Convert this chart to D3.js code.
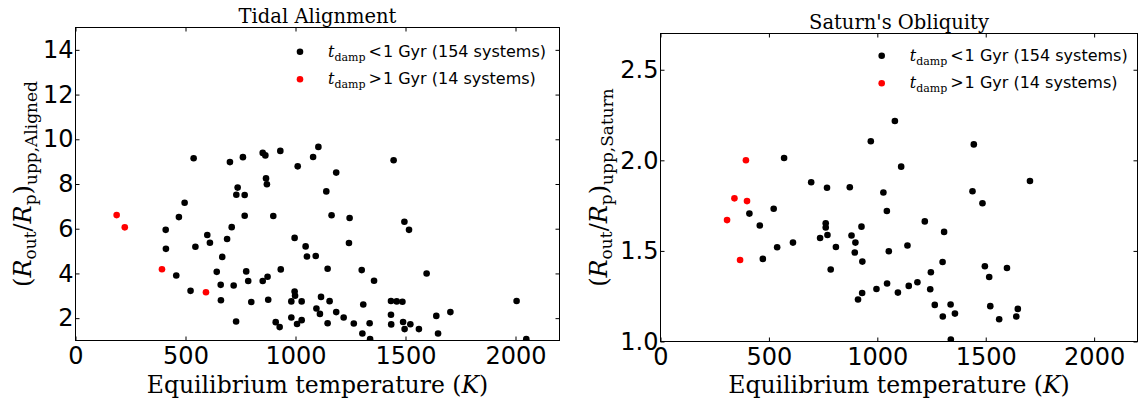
<!DOCTYPE html>
<html>
<head>
<meta charset="utf-8">
<script src="https://cdn.jsdelivr.net/npm/d3@7"></script>
<style>
  body { margin: 0; background: #fff; }
  svg { display: block; }
</style>
</head>
<body>
<svg id="chart" width="1139" height="403"></svg>
<script>
// values: [equilibrium temperature (K), (Rout/Rp)upp]
const tempTicks = [0, 500, 1000, 1500, 2000];
const alignedTicks = [2, 4, 6, 8, 10, 12, 14];
const saturnTicks = [1.0, 1.5, 2.0, 2.5];

// Tidal Alignment, t_damp < 1 Gyr
const alignedFast = [
  [537, 9.15], [496, 7.16], [470, 6.52], [410, 5.95], [411, 5.10], [458, 3.91],
  [523, 3.22], [545, 5.19], [599, 5.72], [611, 5.37], [642, 4.07], [667, 4.74],
  [660, 3.49], [661, 2.80], [689, 5.54], [710, 6.07], [702, 8.98], [719, 3.46],
  [730, 1.85], [731, 7.52], [737, 7.84], [761, 9.20], [769, 7.51], [769, 6.58],
  [776, 4.09], [785, 3.66], [799, 2.72], [851, 9.39], [863, 9.28], [866, 8.25],
  [870, 7.99], [899, 6.57], [851, 3.66], [873, 3.85], [876, 2.82], [910, 1.82],
  [928, 1.60], [931, 9.48], [933, 4.18], [981, 2.75], [981, 2.03], [996, 5.59],
  [996, 3.19], [998, 3.00], [1007, 1.74], [1010, 8.79], [1028, 2.75], [1028, 1.91],
  [1046, 5.21], [1052, 4.76], [1080, 9.21], [1104, 9.66], [1185, 8.51], [1140, 7.67],
  [1164, 6.60], [1246, 6.48], [1243, 5.36], [1092, 4.78], [1146, 4.21], [1301, 4.15],
  [1357, 3.67], [1446, 9.06], [1495, 6.31], [1516, 5.95], [1596, 4.00], [1116, 2.95],
  [1155, 2.76], [1095, 2.43], [1111, 2.19], [1185, 2.27], [1219, 2.03], [1146, 1.77],
  [1265, 1.76], [1308, 2.61], [1304, 1.31], [1337, 1.77], [1339, 1.06], [1434, 2.77],
  [1460, 2.75], [1486, 2.73], [1434, 2.15], [1435, 1.72], [1489, 1.83], [1522, 1.73],
  [1496, 1.51], [1561, 1.51], [1640, 2.10], [1704, 2.27], [1648, 1.31], [2005, 2.77],
  [2049, 1.06]
];
// Tidal Alignment, t_damp > 1 Gyr
const alignedSlow = [[187, 6.61], [224, 6.06], [393, 4.19], [593, 3.16]];

// Saturn's Obliquity, t_damp < 1 Gyr
const saturnFast = [
  [570, 2.013], [695, 1.879], [768, 1.849], [873, 1.851], [970, 2.105], [1081, 2.217],
  [1110, 1.965], [1028, 1.822], [1044, 1.720], [410, 1.706], [522, 1.733], [458, 1.640],
  [538, 1.520], [611, 1.546], [472, 1.456], [762, 1.652], [762, 1.629], [770, 1.588],
  [736, 1.571], [809, 1.522], [785, 1.397], [881, 1.585], [899, 1.546], [896, 1.491],
  [927, 1.634], [931, 1.441], [930, 1.268], [911, 1.232], [996, 1.290], [1045, 1.320],
  [1053, 1.498], [1095, 1.270], [1139, 1.530], [1145, 1.307], [1185, 1.327], [1219, 1.663],
  [1308, 1.605], [1301, 1.439], [1247, 1.382], [1244, 1.288], [1265, 1.202], [1338, 1.204],
  [1358, 1.154], [1302, 1.138], [1339, 1.011], [1445, 2.088], [1439, 1.829], [1485, 1.763],
  [1704, 1.886], [1496, 1.415], [1516, 1.356], [1598, 1.406], [1521, 1.195], [1562, 1.123],
  [1648, 1.180], [1641, 1.138]
];
// Saturn's Obliquity, t_damp > 1 Gyr
const saturnSlow = [[394, 2.000], [341, 1.790], [399, 1.775], [307, 1.670], [367, 1.450]];

const legendLabels = ["<1 Gyr (154 systems)", ">1 Gyr (14 systems)"];

const svg = d3.select("#chart");
const serif = "DejaVu Serif";
const sans = "DejaVu Sans";

function drawPanel(p) {
  const x = d3.scaleLinear().domain([0, 2200]).range([p.left, p.right]);
  const y = d3.scaleLinear().domain(p.yDomain).range([p.bottom, p.top]);
  const g = svg.append("g");

  // clip region for the markers
  g.append("clipPath").attr("id", p.id + "-clip")
    .append("rect")
    .attr("x", p.left).attr("y", p.top)
    .attr("width", p.right - p.left).attr("height", p.bottom - p.top);

  // axes with inward ticks on every side
  const styleAxis = sel => {
    sel.select(".domain").remove();
    sel.selectAll(".tick line").attr("stroke", "#000");
    sel.selectAll(".tick text")
      .attr("font-family", sans).attr("font-size", 24).attr("fill", "#000");
  };
  g.append("g").attr("transform", `translate(0,${p.bottom})`)
    .call(d3.axisBottom(x).tickValues(tempTicks).tickSize(-4).tickPadding(6).tickFormat(d3.format("d")))
    .call(styleAxis);
  g.append("g").attr("transform", `translate(0,${p.top})`)
    .call(d3.axisTop(x).tickValues(tempTicks).tickSize(-4).tickFormat(""))
    .call(styleAxis);
  g.append("g").attr("transform", `translate(${p.left},0)`)
    .call(d3.axisLeft(y).tickValues(p.yTicks).tickSize(-4).tickPadding(2).tickFormat(p.yFormat))
    .call(styleAxis);
  g.append("g").attr("transform", `translate(${p.right},0)`)
    .call(d3.axisRight(y).tickValues(p.yTicks).tickSize(-4).tickFormat(""))
    .call(styleAxis);

  g.append("rect")
    .attr("x", p.left).attr("y", p.top)
    .attr("width", p.right - p.left).attr("height", p.bottom - p.top)
    .attr("fill", "none").attr("stroke", "#000").attr("stroke-width", 1);

  const dots = g.append("g").attr("clip-path", `url(#${p.id}-clip)`);
  dots.selectAll("circle.fast").data(p.fast).join("circle")
    .attr("class", "fast")
    .attr("cx", d => x(d[0])).attr("cy", d => y(d[1])).attr("r", 3.3)
    .attr("fill", "#000");
  dots.selectAll("circle.slow").data(p.slow).join("circle")
    .attr("class", "slow")
    .attr("cx", d => x(d[0])).attr("cy", d => y(d[1])).attr("r", 3.3)
    .attr("fill", "#ff0000");

  // legend
  ["#000", "#ff0000"].forEach((c, i) => {
    const ly = p.legendY + i * 27.5;
    g.append("circle").attr("cx", p.legendX).attr("cy", ly).attr("r", 3.3).attr("fill", c);
    const t = g.append("text").attr("x", p.legendX + 28).attr("y", ly + 5)
      .attr("font-size", 16).attr("font-family", serif);
    t.append("tspan").attr("font-style", "italic").text("t");
    t.append("tspan").attr("dy", 4).attr("font-size", 11).text("damp");
    t.append("tspan").attr("dy", -4).attr("dx", 3).text(legendLabels[i].slice(0, 1));
    t.append("tspan").attr("font-family", sans).attr("dx", 1).text(legendLabels[i].slice(1));
  });

  // title
  g.append("text")
    .attr("x", (p.left + p.right) / 2).attr("y", p.titleY)
    .attr("text-anchor", "middle").attr("font-family", serif).attr("font-size", 19.5)
    .text(p.title);

  // x label
  const xl = g.append("text")
    .attr("x", (p.left + p.right) / 2).attr("y", 393)
    .attr("text-anchor", "middle").attr("font-family", serif).attr("font-size", 23.5);
  xl.append("tspan").text("Equilibrium temperature (");
  xl.append("tspan").attr("font-style", "italic").text("K");
  xl.append("tspan").text(")");

  // y label
  const yl = g.append("text")
    .attr("transform", `translate(${p.ylabelX},${(p.top + p.bottom) / 2}) rotate(-90)`)
    .attr("text-anchor", "middle").attr("font-family", serif).attr("font-size", 24);
  yl.append("tspan").text("(");
  yl.append("tspan").attr("font-style", "italic").text("R");
  yl.append("tspan").attr("dy", 5).attr("font-size", 17).text("out");
  yl.append("tspan").attr("dy", -5).text("/");
  yl.append("tspan").attr("font-style", "italic").text("R");
  yl.append("tspan").attr("dy", 5).attr("font-size", 17).text("p");
  yl.append("tspan").attr("dy", -5).text(")");
  yl.append("tspan").attr("dy", 6).attr("font-size", 17).text(p.ySub);
}

drawPanel({
  id: "aligned", title: "Tidal Alignment", ySub: "upp,Aligned",
  left: 75.5, right: 559.5, top: 27.5, bottom: 340.5,
  yDomain: [1, 15], yTicks: alignedTicks, yFormat: d3.format("d"),
  fast: alignedFast, slow: alignedSlow,
  legendX: 300, legendY: 51.7, titleY: 22.5, ylabelX: 31
});

drawPanel({
  id: "saturn", title: "Saturn's Obliquity", ySub: "upp,Saturn",
  left: 660.5, right: 1137.5, top: 33.5, bottom: 341.5,
  yDomain: [1.0, 2.7], yTicks: saturnTicks, yFormat: d3.format(".1f"),
  fast: saturnFast, slow: saturnSlow,
  legendX: 881.7, legendY: 55.7, titleY: 28.5, ylabelX: 607
});
</script>
</body>
</html>
